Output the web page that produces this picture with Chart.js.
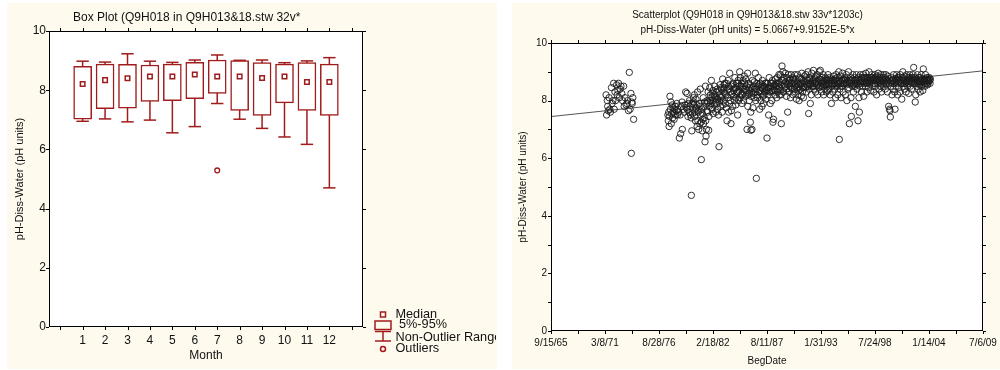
<!DOCTYPE html>
<html>
<head>
<meta charset="utf-8">
<script src="https://cdn.jsdelivr.net/npm/chart.js@4.4.1/dist/chart.umd.min.js"></script>
<style>
  html, body { margin: 0; padding: 0; background: #fff; overflow: hidden; }
  canvas { position: absolute; background: #fefaed; }
  #boxChart { left: 7px; top: 3px; }
  #scatterChart { left: 512px; top: 3px; }
</style>
</head>
<body>
<canvas id="boxChart" width="490" height="366"></canvas>
<canvas id="scatterChart" width="488" height="366"></canvas>
<script>
// ---- box plot data (pH by month) ----
const months = [1, 2, 3, 4, 5, 6, 7, 8, 9, 10, 11, 12];
const monthLabels = ["1", "2", "3", "4", "5", "6", "7", "8", "9", "10", "11", "12"];
const medians = [8.21, 8.34, 8.40, 8.46, 8.46, 8.53, 8.46, 8.46, 8.41, 8.46, 8.28, 8.28];
const p5 = [7.02, 7.38, 7.39, 7.62, 7.65, 7.71, 7.89, 7.32, 7.15, 7.57, 7.32, 7.15];
const p95 = [8.81, 8.88, 8.87, 8.85, 8.88, 8.94, 9.02, 9.00, 8.93, 8.88, 8.93, 8.88];
const rangeMin = [6.95, 7.03, 6.93, 6.99, 6.56, 6.77, 7.55, 7.02, 6.71, 6.42, 6.17, 4.70];
const rangeMax = [8.98, 8.95, 9.23, 8.98, 8.94, 9.02, 9.19, 9.01, 9.02, 8.93, 8.99, 9.10];
const outlierMonths = [7];
const outlierValues = [5.29];
const legendLabels = ["Median", " 5%-95%", "Non-Outlier Range", "Outliers"];

// ---- scatter data: [BegDate serial day, pH] ----
const samples1970s = [
  [26040,8.2],[26060,7.5],[26085,8.0],[26100,7.8],[26120,7.65],[26150,8.1],[26180,7.7],[26200,7.6],[26240,8.45],[26260,7.9],
  [26290,8.0],[26320,8.6],[26340,7.7],[26370,8.3],[26390,8.0],[26430,8.55],[26450,8.2],[26480,8.35],[26500,8.6],[26530,8.1],
  [26560,8.4],[26590,8.5],[26620,8.25],[26650,8.0],[26690,8.5],[26710,7.8],[26740,8.1],[26780,7.85],[26810,7.9],[26840,8.0],
  [26870,7.65],[26900,8.98],[26930,7.7],[26960,8.25],[26975,6.17],[26995,7.95],[27010,7.9],[27030,8.1],[27060,7.35],
  [28330,7.5],[28345,7.3],[28360,7.6],[28375,7.1],[28390,7.45],[28405,8.15],[28420,7.7],[28440,7.95],[28455,7.2],[28470,7.55],
  [28490,7.85],[28505,7.4],[28520,7.75],[28540,7.6],[28560,7.35],[28580,7.7],[28600,7.8],[28620,7.5],[28640,7.65],[28660,7.9],
  [28680,7.5],[28700,7.7],[28720,7.6],[28753,6.7],[28780,7.5],[28802,6.85],[28830,7.8],[28852,7.95],[28864,7.0],[28900,7.7],
  [28930,7.6],[28960,7.85],[28988,8.3],[29010,7.75],[29037,8.25],
  [29050,7.7],[29070,7.45],[29090,7.9],[29110,7.6],[29130,8.0],[29150,7.8],[29170,7.5],[29190,7.4],[29198,4.71],[29215,6.95]
];
const samples1980s = [
  [29230,7.9],[29250,7.7],[29270,8.1],[29290,7.85],[29310,8.2],[29330,7.6],[29350,7.3],[29370,8.05],[29390,7.75],
  [29410,7.1],[29430,8.3],[29450,7.6],[29470,7.0],[29490,7.9],[29510,7.2],[29530,8.4],[29550,7.5],[29568,5.95],[29585,7.7],
  [29600,6.95],[29620,7.35],[29640,8.1],[29660,7.8],[29680,7.4],[29704,6.57],[29720,8.5],[29741,6.77],[29755,7.0],[29765,7.9],
  [29780,8.0],[29800,7.6],[29820,8.3],[29840,6.97],[29860,7.8],[29880,8.45],[29900,8.2],[29920,7.9],[29940,8.7],[29960,8.1],
  [29980,7.7],[30000,8.35],[30020,8.0],[30040,7.85],[30060,8.5],[30080,8.15],[30100,7.6],[30120,8.3],
  [30140,7.9],[30160,8.4],[30180,8.05],[30200,7.5],[30222,6.4],[30240,8.2],[30260,8.55],[30280,7.8],[30300,8.1],[30320,8.4],
  [30340,7.6],[30358,8.75],[30380,8.0],[30400,8.3],[30420,8.45],[30440,8.6],[30460,7.9],[30480,8.2],
  [30500,8.6],[30519,7.3],[30540,8.1],[30560,8.7],[30580,7.6],[30600,8.4],[30617,8.95],[30640,8.0],[30667,7.2],[30690,8.5],
  [30710,8.25],[30730,7.8],[30750,8.6],[30770,8.35],[30790,8.0],[30810,8.8],[30830,8.45],[30850,8.1],
  [30870,8.6],[30890,8.3],[30914,7.5],[30930,8.7],[30950,8.0],[30970,8.5],[30988,9.0],[31010,8.8],[31030,8.2],[31050,8.6],
  [31070,7.9],[31090,8.45],[31110,8.7],[31130,8.0],[31150,8.3],[31170,8.6],[31190,8.4],[31210,8.75],
  [31240,8.5],[31260,7.0],[31284,8.95],[31300,8.2],[31320,8.6],[31340,8.0],[31360,8.45],[31383,7.25],[31400,7.6],[31408,6.97],
  [31425,8.3],[31445,7.0],[31460,8.7],[31480,7.75],[31500,8.5],[31520,8.1],[31540,8.4],[31568,8.95],[31585,8.0],
  [31605,5.3],[31620,8.6],[31640,8.2],[31660,8.5],[31680,8.8],[31700,8.3],[31729,7.7],[31750,8.6],[31770,8.0],[31790,8.45],
  [31815,7.8],[31830,8.7],[31850,8.15],[31870,7.9],[31890,8.5],[31910,8.3],[31930,8.6],[31950,8.05],
  [31980,8.4],[32000,6.7],[32020,8.6],[32040,8.2],[32062,7.5],[32080,8.8],[32100,8.5],[32120,7.9],[32140,8.6],[32160,8.3],
  [32180,8.0],[32200,8.7],[32220,7.25],[32240,7.35],[32260,8.4],[32280,8.55],[32300,8.2],[32320,8.75],
  [32340,8.5],[32360,8.1],[32380,8.8],[32400,8.3],[32420,8.6],[32440,8.9],[32460,8.2],[32480,8.45],[32500,8.9],[32520,8.2],
  [32531,7.2],[32556,9.2],[32570,8.7],[32590,9.0],[32610,8.3],[32630,8.8],[32650,8.55],[32680,8.95],
  [32700,8.5],[32720,8.15],[32740,8.8],[32766,7.6],[32790,8.9],[32810,8.3],[32830,8.7],[32850,8.5],
  [29240,7.55],[29280,7.95],[29320,7.45],[29360,7.7],[29400,7.85],[29440,7.3],[29480,7.65],[29520,7.8],[29560,7.25],[29610,7.55],
  [29650,7.2],[29690,7.95],[29730,7.3],[29770,7.65],[29810,7.95],[29850,7.45],[29890,8.0],[29930,7.75],[29970,8.25],[30010,7.55],
  [30050,8.2],[30090,7.95],[30130,8.05],[30170,7.7],[30210,8.3],[30250,7.95],[30290,8.45],[30330,8.15],[30370,7.85],[30410,8.55],
  [30450,8.25],[30490,7.75],[30530,8.35],[30570,8.5],[30610,7.9],[30650,8.3],[30680,7.65],[30720,8.55],[30760,8.15],[30800,8.4],
  [30840,7.85],[30880,8.25],[30920,8.6],[30960,8.35],[31000,8.1],[31040,8.5],[31080,8.2],[31120,8.4],[31160,8.85],[31200,8.15],
  [31250,8.35],[31290,7.8],[31330,8.25],[31370,8.55],[31410,8.15],[31450,8.4],[31490,8.25],[31530,8.65],[31570,8.3],[31610,8.4],
  [31650,8.1],[31690,8.55],[31735,8.35],[31775,8.25],[31810,8.55],[31845,8.4],[31885,8.2],[31925,8.45],[31965,8.6],[32005,8.35],
  [32045,8.45],[32090,8.3],[32130,8.45],[32170,8.6],[32210,8.35],[32250,8.5],[32290,8.35],[32330,8.6],[32370,8.4],[32410,8.5],
  [32450,8.65],[32490,8.35],[32545,8.55],[32600,8.7],[32640,8.45],[32690,8.65],[32730,8.4],[32780,8.55],[32820,8.6],[32860,8.75]
];
const samples1990s = [
  [32870,8.1],[32890,8.9],[32910,8.6],[32930,8.4],[32950,8.8],[32970,8.2],[32990,8.65],[33010,8.5],[33030,8.9],
  [33050,8.3],[33070,8.75],[33090,8.05],[33110,8.6],[33130,8.9],[33150,8.2],[33170,8.5],[33190,8.0],[33210,8.8],[33230,8.4],
  [33250,8.6],[33270,8.15],[33290,8.95],[33310,8.3],[33330,8.7],[33350,8.1],[33370,8.5],[33390,8.85],
  [33420,8.6],[33440,8.9],[33460,8.3],[33480,8.75],[33500,8.5],[33520,9.0],[33543,7.55],[33560,8.4],[33580,8.8],[33605,7.9],
  [33620,8.6],[33640,8.2],[33660,8.95],[33680,8.5],[33700,8.7],[33720,9.05],[33740,8.4],[33760,8.8],
  [33780,8.6],[33800,8.3],[33820,8.85],[33840,8.5],[33860,8.9],[33880,8.2],[33900,8.7],[33920,8.45],[33940,9.0],[33976,9.05],
  [34000,8.6],[34020,8.3],[34040,8.8],[34060,8.5],[34080,8.9],[34100,8.2],[34120,8.65],[34140,8.4],
  [34160,8.8],[34180,8.55],[34200,8.3],[34220,8.7],[34240,8.35],[34260,8.9],[34280,8.6],[34300,8.4],[34320,8.8],[34340,8.2],
  [34360,8.65],[34383,7.9],[34400,8.5],[34420,8.7],[34440,8.3],[34460,8.85],[34480,8.6],[34500,8.4],
  [34520,8.7],[34540,8.1],[34560,8.9],[34580,8.5],[34600,8.8],[34620,8.2],[34640,8.6],[34660,9.0],[34679,6.65],[34700,8.4],
  [34720,8.85],[34740,8.1],[34760,8.7],[34780,8.5],[34800,8.95],[34820,8.3],[34840,8.75],[34860,8.6],
  [34880,8.8],[34900,8.2],[34920,8.6],[34940,8.9],[34960,8.0],[34980,8.7],[35000,8.4],[35020,9.0],[35050,7.2],[35070,8.6],
  [35090,8.8],[35110,8.1],[35124,7.45],[35140,8.7],[35160,8.5],[35180,8.9],[35200,8.3],[35220,8.6],[35240,8.8],
  [35260,8.5],[35272,7.8],[35290,8.7],[35310,8.9],[35330,8.4],[35350,8.6],[35371,7.3],[35390,8.8],[35405,8.1],[35420,7.6],
  [35440,8.5],[35460,8.9],[35480,8.65],[35500,8.3],[35520,8.8],[35540,8.5],[35560,8.9],[35580,8.15],[35600,8.6],
  [35620,8.8],[35640,8.5],[35660,8.95],[35680,8.6],[35700,8.3],[35720,8.8],[35740,8.7],[35760,8.45],[35780,9.0],[35800,8.6],
  [35820,8.8],[35840,8.35],[35860,8.7],[35880,8.9],[35900,8.5],[35920,8.8],[35940,8.6],[35960,8.3],
  [35980,8.75],[36000,8.9],[36020,8.5],[36040,8.7],[36060,8.2],[36080,8.85],[36100,8.6],[36120,8.95],[36140,8.4],[36160,8.7],
  [36180,8.8],[36200,8.5],[36220,8.9],[36240,8.3],[36260,8.65],[36280,8.8],[36300,8.5],[36320,8.9],
  [36340,8.6],[36360,8.8],[36380,8.4],[36400,8.9],[36420,8.55],[36440,8.7],[36460,8.3],[36480,8.85],[36506,7.8],
  [32900,8.45],[32940,8.6],[32980,8.75],[33020,8.4],[33060,8.55],[33100,8.45],[33140,8.65],[33180,8.35],[33220,8.55],[33260,8.75],
  [33300,8.6],[33340,8.45],[33380,8.65],[33430,8.45],[33470,8.55],[33510,8.7],[33550,8.6],[33590,8.55],[33630,8.75],[33670,8.65],
  [33710,8.5],[33750,8.6],[33790,8.75],[33830,8.65],[33870,8.55],[33910,8.6],[33950,8.75],[33990,8.5],[34030,8.65],[34070,8.7],
  [34110,8.55],[34150,8.6],[34190,8.75],[34230,8.5],[34270,8.7],[34310,8.6],[34350,8.75],[34390,8.6],[34430,8.55],[34470,8.7],
  [34510,8.6],[34550,8.75],[34590,8.65],[34630,8.5],[34670,8.7],[34710,8.6],[34750,8.5],[34790,8.7],[34830,8.6],[34870,8.7],
  [34910,8.75],[34950,8.55],[34990,8.65],[35030,8.45],[35080,8.7],[35130,8.6],[35170,8.75],[35210,8.55],[35250,8.7],[35300,8.6],
  [35340,8.75],[35380,8.55],[35430,8.7],[35470,8.6],[35510,8.75],[35550,8.65],[35590,8.8],[35630,8.65],[35670,8.75],[35710,8.6],
  [35750,8.7],[35790,8.75],[35830,8.65],[35870,8.8],[35910,8.7],[35950,8.75],[35990,8.6],[36030,8.8],[36070,8.7],[36110,8.75],
  [36150,8.65],[36190,8.7],[36230,8.6],[36270,8.75],[36310,8.7],[36350,8.65],[36390,8.75],[36430,8.6],[36470,8.7]
];
const samples2000s = [
  [36520,8.6],[36540,7.7],[36555,7.65],[36568,7.43],[36590,8.5],[36610,8.8],[36630,8.2],[36650,8.7],[36670,8.4],[36690,8.9],
  [36710,8.6],[36730,8.3],[36742,7.7],[36760,8.75],[36780,8.5],[36800,8.9],[36820,8.6],[36840,8.2],[36860,8.8],[36880,8.45],
  [36900,8.7],[36920,8.3],[36940,8.9],[36960,8.6],[36990,8.05],[37010,8.8],[37030,9.0],[37050,8.5],
  [37070,8.7],[37090,8.4],[37110,8.85],[37130,8.6],[37150,8.3],[37170,8.9],[37190,8.7],[37210,8.5],[37230,8.8],[37250,8.25],
  [37270,8.65],[37290,8.9],[37310,8.5],[37330,8.75],[37350,8.4],[37370,8.8],[37390,8.6],[37410,8.9],
  [37432,9.15],[37450,8.6],[37470,8.8],[37490,7.95],[37510,8.2],[37530,8.7],[37550,8.5],[37570,8.9],[37590,8.6],[37610,8.4],
  [37630,8.8],[37650,8.55],[37670,8.3],[37690,8.7],[37710,8.9],[37730,8.5],[37750,8.65],[37770,8.35],[37790,9.1],[37810,8.6],
  [37830,8.75],[37850,8.5],[37870,8.9],[37890,8.6],[37910,8.7],[37930,8.8],[37950,8.55],[37970,8.7],[37990,8.65],[38010,8.8],
  [38030,8.7],[38050,8.75],
  [36530,8.75],[36580,8.65],[36620,8.7],[36660,8.6],[36700,8.75],[36750,8.65],[36790,8.7],[36830,8.8],[36870,8.65],[36910,8.75],
  [36950,8.6],[37000,8.7],[37040,8.75],[37080,8.6],[37120,8.7],[37160,8.65],[37200,8.75],[37240,8.6],[37280,8.8],[37320,8.7],
  [37360,8.65],[37400,8.75],[37440,8.7],[37480,8.6],[37520,8.75],[37560,8.65],[37600,8.7],[37640,8.65],[37680,8.8],[37720,8.7],
  [37760,8.75],[37800,8.65],[37840,8.7],[37880,8.75],[37920,8.6],[37960,8.7],[38000,8.75],[38040,8.6]
];
// regression line end points (read at the axis limits)
const fitX = [24000, 40000];
const fitY = [7.446, 9.033];
// x axis: serial day ticks and their date labels
const dateTicks = [24000, 26000, 28000, 30000, 32000, 34000, 36000, 38000, 40000];
const dateTickLabels = ["9/15/65", "3/8/71", "8/28/76", "2/18/82", "8/11/87", "1/31/93", "7/24/98", "1/14/04", "7/6/09"];

const RED = "#a01c1c";
const FONT = '"Liberation Sans", Arial, sans-serif';
Chart.defaults.font.family = FONT;
Chart.defaults.color = "#111";

const range = (a, b, step) => { const out = []; for (let v = a; v <= b; v += step) out.push(v); return out; };

// white plot area, black frame and small outward tick marks
const frame = {
    id: "frame",
    beforeDraw(chart) {
        const { ctx, chartArea: a } = chart;
        ctx.save();
        ctx.fillStyle = "#fff";
        ctx.fillRect(a.left, a.top, a.width, a.height);
        ctx.restore();
    },
    afterDraw(chart) {
        const { ctx, chartArea: a, scales } = chart;
        ctx.save();
        ctx.strokeStyle = "#000";
        ctx.lineWidth = 1;
        ctx.strokeRect(Math.round(a.left) + 0.5, Math.round(a.top) + 0.5, Math.round(a.width) - 1, Math.round(a.height) - 1);
        ctx.beginPath();
        scales.x.ticks.forEach(t => {
            const px = Math.round(scales.x.getPixelForValue(t.value)) + 0.5;
            ctx.moveTo(px, a.top - 3); ctx.lineTo(px, a.top);
            ctx.moveTo(px, a.bottom); ctx.lineTo(px, a.bottom + 3);
        });
        scales.y.ticks.forEach(t => {
            const py = Math.round(scales.y.getPixelForValue(t.value)) + 0.5;
            ctx.moveTo(a.left - 3, py); ctx.lineTo(a.left, py);
            ctx.moveTo(a.right, py); ctx.lineTo(a.right + 3, py);
        });
        ctx.stroke();
        ctx.restore();
    }
};

// title and legend of the box plot
const boxDecor = {
    id: "boxDecor",
    afterDraw(chart) {
        const { ctx, chartArea: a } = chart;
        ctx.save();
        ctx.fillStyle = "#111";
        ctx.textBaseline = "middle";
        ctx.font = "12px " + FONT;
        ctx.fillText("Box Plot (Q9H018 in Q9H013&18.stw 32v*", 66, 15);

        const x0 = a.right + 20;
        ctx.strokeStyle = RED;
        ctx.lineWidth = 1.5;
        ctx.strokeRect(x0 - 2.5, 309, 5, 5);
        ctx.strokeRect(x0 - 8, 318, 16, 8.5);
        ctx.beginPath();
        ctx.moveTo(x0 - 8, 328.5); ctx.lineTo(x0 + 8, 328.5);
        ctx.moveTo(x0, 328.5); ctx.lineTo(x0, 338);
        ctx.moveTo(x0 - 8, 338); ctx.lineTo(x0 + 8, 338);
        ctx.stroke();
        ctx.beginPath();
        ctx.arc(x0, 346, 2.5, 0, Math.PI * 2);
        ctx.stroke();

        // the panel edge cuts the longest label, as in the original
        ctx.beginPath();
        ctx.rect(0, 0, 489, chart.height);
        ctx.clip();
        ctx.font = "12.7px " + FONT;
        const ys = [311, 321.5, 334.5, 345.5];
        legendLabels.forEach((t, i) => ctx.fillText(t, x0 + 12.5, ys[i]));
        ctx.restore();
    }
};

// box plot
new Chart(document.getElementById("boxChart"), {
    type: "scatter",
    data: {
        datasets: [
            {
                type: "bar",
                data: months.map((m, i) => ({ x: m, y: [rangeMin[i], rangeMax[i]] })),
                backgroundColor: RED,
                barThickness: 1.5,
                inflateAmount: 0,
                grouped: false,
                order: 4
            },
            {
                type: "bar",
                data: months.map((m, i) => ({ x: m, y: [p5[i], p95[i]] })),
                backgroundColor: "#fff",
                borderColor: RED,
                borderWidth: 1.5,
                borderSkipped: false,
                barThickness: 18,
                grouped: false,
                order: 3
            },
            {
                data: months.flatMap((m, i) => [{ x: m, y: rangeMin[i] }, { x: m, y: rangeMax[i] }]),
                pointStyle: "line",
                pointRadius: 6.2,
                borderColor: RED,
                borderWidth: 1.5,
                order: 2
            },
            {
                data: months.map((m, i) => ({ x: m, y: medians[i] })),
                pointStyle: "rect",
                pointRadius: 3.2,
                backgroundColor: "#fff",
                borderColor: RED,
                borderWidth: 1.5,
                order: 1
            },
            {
                data: outlierMonths.map((m, i) => ({ x: m, y: outlierValues[i] })),
                pointStyle: "circle",
                pointRadius: 2.4,
                backgroundColor: "rgba(0,0,0,0)",
                borderColor: RED,
                borderWidth: 1.3,
                order: 1
            }
        ]
    },
    options: {
        responsive: false,
        animation: false,
        events: [],
        layout: { padding: { left: 0, top: 28, right: 134, bottom: 0 } },
        plugins: { legend: { display: false }, tooltip: { enabled: false } },
        scales: {
            x: {
                type: "linear",
                min: -0.5,
                max: 13.5,
                offset: false,
                grid: { display: false, drawTicks: false },
                border: { display: false },
                afterBuildTicks: s => { s.ticks = range(0, 13, 1).map(v => ({ value: v })); },
                ticks: {
                    autoSkip: false, maxRotation: 0, padding: 6, font: { size: 12 },
                    callback: v => (v >= 1 && v <= 12) ? monthLabels[v - 1] : ""
                },
                title: { display: true, text: "Month", font: { size: 12 }, padding: { top: 0, bottom: 6 } },
                afterFit: s => { s.height = 42; s.paddingLeft = 0; s.paddingRight = 0; }
            },
            y: {
                min: 0,
                max: 10,
                grid: { display: false, drawTicks: false },
                border: { display: false },
                afterBuildTicks: s => { s.ticks = range(0, 10, 2).map(v => ({ value: v })); },
                ticks: { padding: 3, font: { size: 12 }, callback: v => String(v) },
                title: { display: true, text: "pH-Diss-Water (pH units)", font: { size: 11 }, padding: { top: 6, bottom: 0 } },
                afterFit: s => { s.width = 42; s.paddingTop = 0; s.paddingBottom = 0; }
            }
        }
    },
    plugins: [frame, boxDecor]
});

// scatterplot
const samples = [...samples1970s, ...samples1980s, ...samples1990s, ...samples2000s];

new Chart(document.getElementById("scatterChart"), {
    type: "scatter",
    data: {
        datasets: [
            {
                data: fitX.map((x, i) => ({ x: x, y: fitY[i] })),
                showLine: true,
                pointRadius: 0,
                borderColor: "#555",
                borderWidth: 1,
                order: 2
            },
            {
                data: samples.map(p => ({ x: p[0], y: p[1] })),
                pointRadius: 3.2,
                borderWidth: 0.9,
                borderColor: "#1c1c1c",
                backgroundColor: "rgba(0,0,0,0)",
                order: 1
            }
        ]
    },
    options: {
        responsive: false,
        animation: false,
        events: [],
        layout: { padding: { left: 0, top: 0, right: 17, bottom: 0 } },
        plugins: {
            legend: { display: false },
            tooltip: { enabled: false },
            title: {
                display: true,
                text: ["Scatterplot (Q9H018 in Q9H013&18.stw 33v*1203c)", "pH-Diss-Water (pH units) = 5.0667+9.9152E-5*x"],
                font: { size: 10, weight: "normal", lineHeight: 1.43 },
                color: "#111",
                padding: { top: 5.5, bottom: 5.9 }
            }
        },
        scales: {
            x: {
                type: "linear",
                min: 24000,
                max: 40000,
                grid: { display: false, drawTicks: false },
                border: { display: false },
                afterBuildTicks: s => { s.ticks = range(24000, 40000, 1000).map(v => ({ value: v })); },
                ticks: {
                    autoSkip: false, maxRotation: 0, padding: 6, font: { size: 10 },
                    callback: v => { const i = dateTicks.indexOf(v); return i >= 0 ? dateTickLabels[i] : ""; }
                },
                title: { display: true, text: "BegDate", font: { size: 10 }, padding: { top: 0, bottom: 2 } },
                afterFit: s => { s.height = 38; s.paddingLeft = 0; s.paddingRight = 0; }
            },
            y: {
                min: 0,
                max: 10,
                grid: { display: false, drawTicks: false },
                border: { display: false },
                afterBuildTicks: s => { s.ticks = range(0, 10, 1).map(v => ({ value: v })); },
                ticks: { padding: 4, font: { size: 10 }, callback: v => (v % 2 === 0 ? String(v) : "") },
                title: { display: true, text: "pH-Diss-Water (pH units)", font: { size: 10 }, padding: { top: 5, bottom: 0 } },
                afterFit: s => { s.width = 39; s.paddingTop = 0; s.paddingBottom = 0; }
            }
        }
    },
    plugins: [frame]
});
</script>
</body>
</html>
